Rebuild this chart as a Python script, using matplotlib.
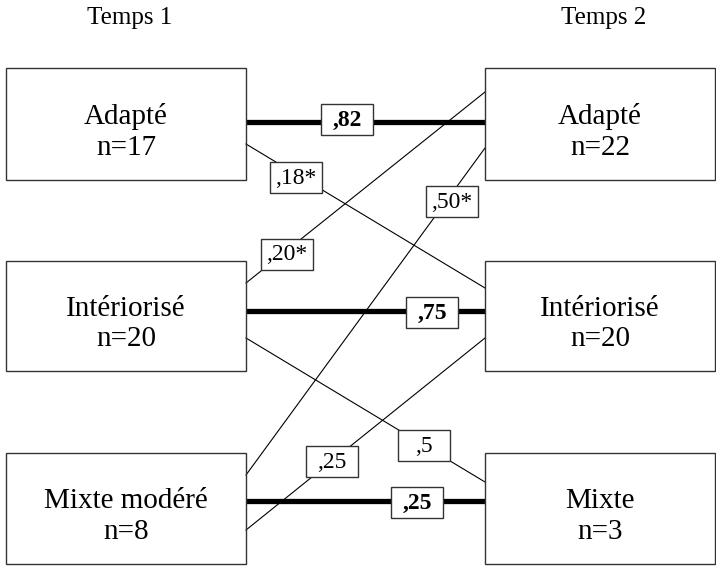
import matplotlib
matplotlib.use("Agg")
import matplotlib.pyplot as plt
from matplotlib.patches import Rectangle

# ---- data ----
time_titles = ["Temps 1", "Temps 2"]
groups_t1 = ["Adapté", "Intériorisé", "Mixte modéré"]
n_t1 = [17, 20, 8]
groups_t2 = ["Adapté", "Intériorisé", "Mixte"]
n_t2 = [22, 20, 3]

# stable transitions (same group at both times)
stable_labels = [",82", ",75", ",25"]
# cross transitions: (from T1 group, to T2 group, label)
cross_from = [0, 1, 2, 1, 2]
cross_to = [1, 0, 0, 2, 1]
cross_labels = [",18*", ",20*", ",50*", ",5", ",25"]

# ---- layout (pixels) ----
W, H = 716, 566
left_x = (6, 246)
right_x = (485, 715)
box_y = [(68, 180), (261, 371), (453, 564)]
stable_y = [122, 311, 501]
stable_lab_c = [(347, 119), (432, 312), (417, 502)]
cross_y0 = [144, 283, 475, 338, 530]
cross_y1 = [288, 92, 148, 482, 338]
cross_lab_c = [(296, 177), (287, 254), (452, 201), (424, 445), (332, 461)]
lab_w, lab_h = 52, 31

fig = plt.figure(figsize=(W / 100, H / 100), dpi=100)
ax = fig.add_axes([0, 0, 1, 1])
ax.set_xlim(0, W)
ax.set_ylim(H, 0)
ax.axis("off")

font = "Liberation Serif"
edge = "#333333"

for (x0, x1), names, ns in [(left_x, groups_t1, n_t1), (right_x, groups_t2, n_t2)]:
    for (y0, y1), name, n in zip(box_y, names, ns):
        ax.add_patch(Rectangle((x0, y0), x1 - x0, y1 - y0, fill=False,
                               edgecolor=edge, linewidth=1.0, zorder=3))
        ax.text((x0 + x1) / 2, (y0 + y1) / 2 + 8, f"{name}\nn={n}",
                ha="center", va="center", fontsize=21, family=font,
                linespacing=1.25, zorder=4)

for xc, t in zip([(left_x[0] + left_x[1]) / 2 + 4, (right_x[0] + right_x[1]) / 2 + 4], time_titles):
    ax.text(xc, 18, t, ha="center", va="center", fontsize=18, family=font)


def label(cx, cy, txt, bold):
    ax.add_patch(Rectangle((cx - lab_w / 2, cy - lab_h / 2), lab_w, lab_h,
                           facecolor="white", edgecolor=edge, linewidth=1.0, zorder=5))
    ax.text(cx, cy + 1, txt, ha="center", va="center", fontsize=17, family=font,
            fontweight="bold" if bold else "normal", zorder=6)


for y, lab, (lx, ly) in zip(stable_y, stable_labels, stable_lab_c):
    ax.plot([left_x[1], right_x[0]], [y, y], color="black", linewidth=3.8,
            solid_capstyle="butt", zorder=1)
    label(lx, ly, lab, True)

for f, t, lab, y0, y1, (lx, ly) in zip(cross_from, cross_to, cross_labels,
                                       cross_y0, cross_y1, cross_lab_c):
    ax.plot([left_x[1], right_x[0]], [y0, y1], color="black", linewidth=0.8, zorder=1)
    label(lx, ly, lab, False)

fig.savefig("out.png", dpi=100)
